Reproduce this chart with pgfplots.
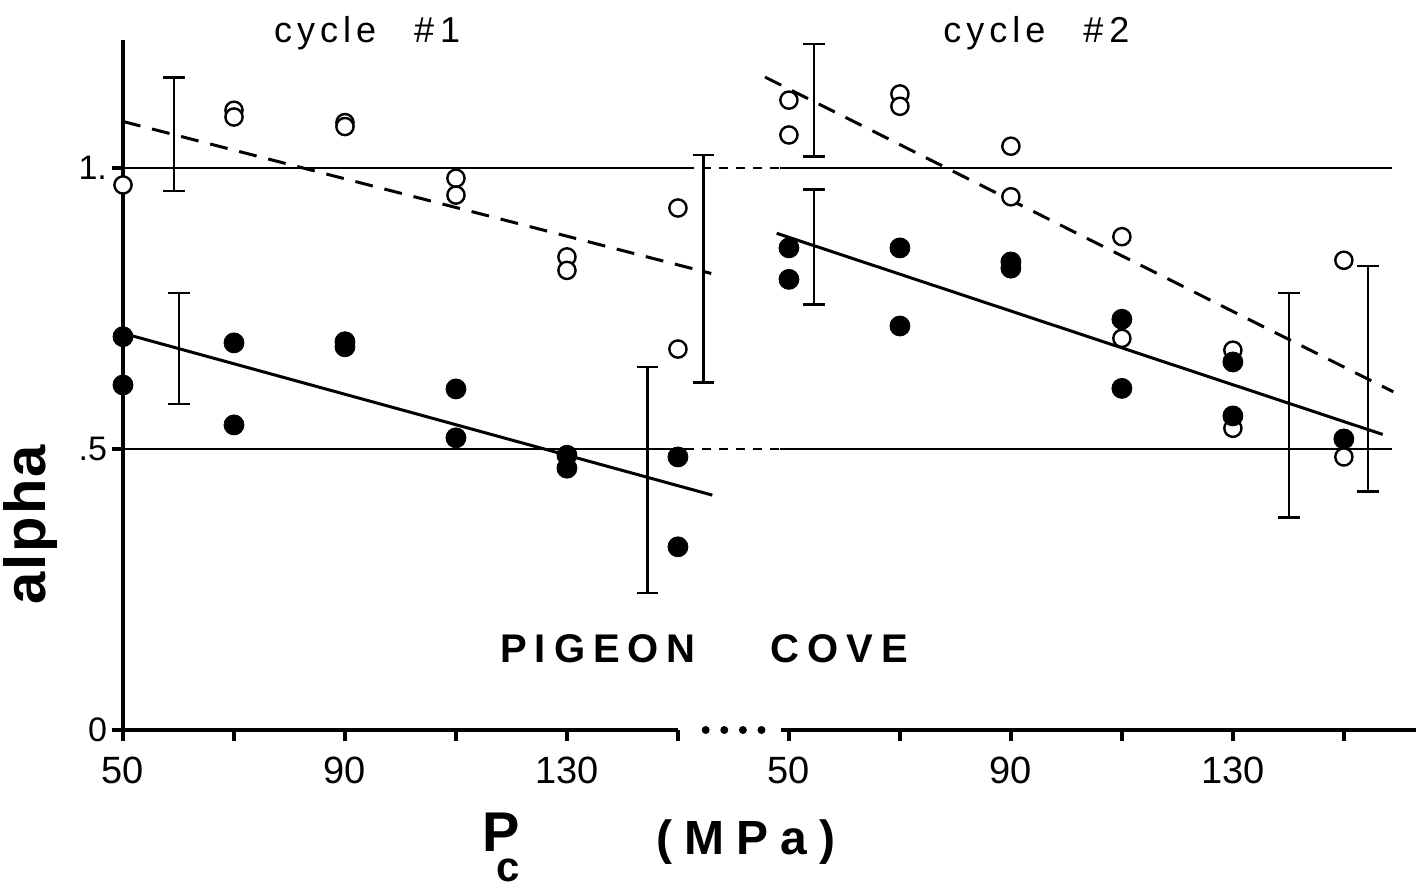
\documentclass[border=0pt]{standalone}
\usepackage{fontspec}
\setmainfont{Liberation Sans}
\usepackage{pgfplots}
\pgfplotsset{compat=1.18}

\pgfplotstableread{
x y
50 0.970
70 1.103
70 1.091
90 1.081
90 1.074
110 0.982
110 0.952
130 0.842
130 0.818
150 0.929
150 0.678
170 1.121
170 1.059
190 1.132
190 1.110
210 1.039
210 0.949
230 0.878
230 0.697
250 0.676
250 0.537
270 0.836
270 0.486
}\opendata

\pgfplotstableread{
x y
50 0.700
50 0.614
70 0.689
70 0.543
90 0.691
90 0.682
110 0.607
110 0.520
130 0.489
130 0.466
150 0.486
150 0.326
170 0.858
170 0.802
190 0.858
190 0.719
210 0.833
210 0.822
230 0.731
230 0.608
250 0.655
250 0.559
270 0.518
}\filleddata

\pgfplotsset{
  ebar/.style={black, line width=1.2pt, mark=none, forget plot,
    error bars/.cd, y dir=both, y explicit, error mark=-,
    error bar style={line width=1.2pt, black},
    error mark options={line width=1.3pt, mark size=5.4pt, black, rotate=90}},
  refline/.style={black, line width=1pt, forget plot},
}

\begin{document}
\begin{tikzpicture}
\begin{axis}[
  scale only axis, width=646.5pt, height=345pt,
  xmin=50, xmax=283, ymin=0, ymax=1.228,
  clip=false,
  axis x line*=bottom, axis y line*=left,
  axis line style={draw=none},
  xtick={50,70,90,110,130,150,170,190,210,230,250,270},
  xticklabels={50,,90,,130,,50,,90,,130,},
  ytick={0,0.5,1},
  yticklabels={0,.5,1.},
  tick align=outside,
  major tick length=5.5pt,
  every tick/.style={black, line width=2pt},
  /pgf/number format/assume math mode=true,
  xticklabel style={font=\fontsize{19}{21}\selectfont, yshift=-4.5pt},
  yticklabel style={font=\fontsize{17}{19}\selectfont, xshift=1pt},
]
% axis lines
\addplot[black, line width=2.2pt, forget plot] coordinates {(50,0) (50,1.228)};
\addplot[black, line width=2.2pt, forget plot] coordinates {(50,0) (150,0)};
\addplot[black, line width=2.2pt, forget plot] coordinates {(168.5,0) (283,0)};
\addplot[black, line width=4pt, line cap=round, dash pattern=on 0pt off 9.3pt, forget plot] coordinates {(155,0) (165.2,0)};

% reference lines
\addplot[refline] coordinates {(50,1) (151.3,1)};
\addplot[refline, dash pattern=on 4.5pt off 4pt] coordinates {(151.3,1) (168.4,1)};
\addplot[refline] coordinates {(168.4,1) (278.6,1)};
\addplot[refline] coordinates {(50,0.5) (151.3,0.5)};
\addplot[refline, dash pattern=on 4.5pt off 4pt] coordinates {(151.3,0.5) (168.4,0.5)};
\addplot[refline] coordinates {(168.4,0.5) (278.6,0.5)};

% regression lines
\addplot[black, line width=1.5pt, dash pattern=on 9pt off 6pt, forget plot] coordinates {(50,1.083) (156,0.8125)};
\addplot[black, line width=1.5pt, forget plot] coordinates {(50,0.706) (156.2,0.418)};
\addplot[black, line width=1.5pt, dash pattern=on 9pt off 6pt, forget plot] coordinates {(165.7,1.162) (278.9,0.602)};
\addplot[black, line width=1.5pt, forget plot] coordinates {(167.8,0.884) (277,0.526)};

% error bars
\addplot[ebar] coordinates {(59.2,1.060) +- (0,0.101)};
\addplot[ebar] coordinates {(60.1,0.679) +- (0,0.099)};
\addplot[ebar] coordinates {(144.5,0.445) +- (0,0.201)};
\addplot[ebar] coordinates {(154.6,0.8205) +- (0,0.2025)};
\addplot[ebar] coordinates {(174.5,1.121) +- (0,0.100)};
\addplot[ebar] coordinates {(174.5,0.8595) +- (0,0.1025)};
\addplot[ebar] coordinates {(260.1,0.578) +- (0,0.200)};
\addplot[ebar] coordinates {(274.4,0.625) +- (0,0.201)};

% data
\addplot[only marks, mark=*, mark size=4.3pt, mark options={fill=white, draw=black, line width=1.2pt}] table[x=x, y=y] {\opendata};
\addplot[only marks, mark=*, mark size=5pt, mark options={fill=black, draw=black}] table[x=x, y=y] {\filleddata};

% texts
\node[anchor=base, font=\fontsize{18}{20}\selectfont] at (axis cs:94,1.224) {c\kern2.5pt y\kern2.5pt c\kern2.5pt l\kern2.5pt e\kern19pt \#\kern3pt 1};
\node[anchor=base, font=\fontsize{18}{20}\selectfont] at (axis cs:214.6,1.224) {c\kern2.5pt y\kern2.5pt c\kern2.5pt l\kern2.5pt e\kern19pt \#\kern3pt 2};
\node[anchor=base west, inner sep=0pt, font=\bfseries\fontsize{20}{22}\selectfont] at (axis cs:117.9,0.121) {P\kern4pt I\kern4pt G\kern4pt E\kern4pt O\kern4pt N};
\node[anchor=base west, inner sep=0pt, font=\bfseries\fontsize{20}{22}\selectfont] at (axis cs:166.6,0.121) {C\kern4pt O\kern4pt V\kern4pt E};
\node[rotate=90, inner sep=0pt, font=\bfseries\fontsize{29}{31}\selectfont] at (axis cs:33.4,0.365) {a\kern1pt l\kern1pt p\kern1pt h\kern1pt a};
\node[anchor=base west, inner sep=0pt, font=\bfseries\fontsize{28}{30}\selectfont] at (axis cs:114.7,-0.217) {P\kern-11.8pt\raisebox{-15pt}{\fontsize{21}{23}\selectfont c}};
\node[anchor=base, inner sep=0pt, font=\bfseries\fontsize{24}{26}\selectfont] at (axis cs:162.3,-0.222) {(\kern6pt M\kern6pt P\kern6pt a\kern6pt )};
\end{axis}
\path (-61.5pt,-80pt) rectangle (652.5pt,365pt);
\end{tikzpicture}
\end{document}
